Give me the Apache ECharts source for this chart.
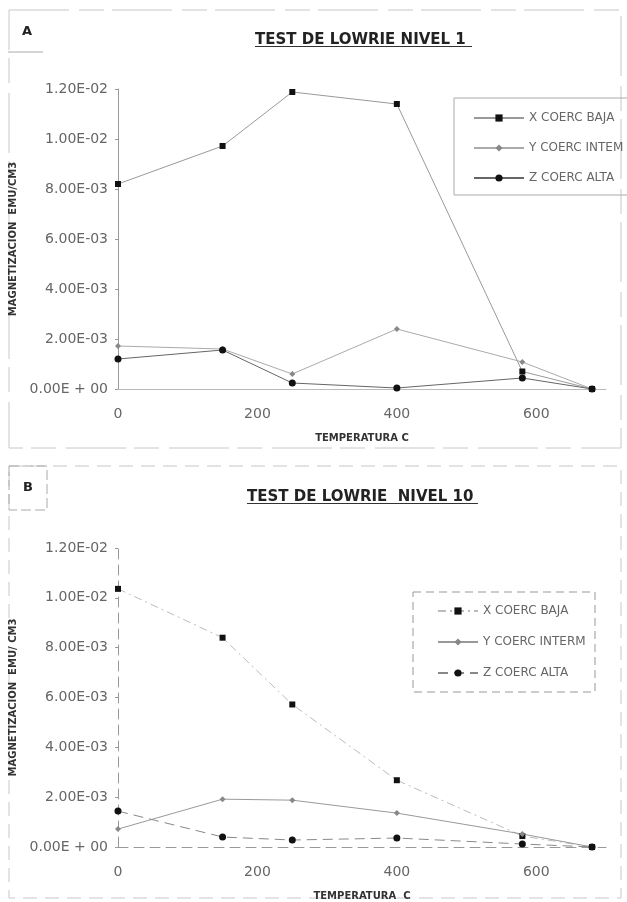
<!DOCTYPE html>
<html>
<head>
<meta charset="utf-8">
<script src="https://cdn.jsdelivr.net/npm/echarts@6/dist/echarts.min.js"></script>
<style>
html,body{margin:0;padding:0;background:#fff;}
#c{width:627px;height:902px;}
</style>
</head>
<body>
<div id="c"></div>
<script>
// ---- data ----
const temps = [0, 150, 250, 400, 580, 680];
const xTickLabels = ['0', '200', '400', '600'];
const yTickLabels = ['0.00E + 00', '2.00E-03', '4.00E-03', '6.00E-03', '8.00E-03', '1.00E-02', '1.20E-02'];

// Panel A: TEST DE LOWRIE NIVEL 1
const xCoercBajaA  = [8.2e-3, 9.72e-3, 11.88e-3, 11.4e-3, 0.7e-3, 0];
const yCoercIntemA = [1.72e-3, 1.6e-3, 0.6e-3, 2.4e-3, 1.08e-3, 0];
const zCoercAltaA  = [1.2e-3, 1.56e-3, 0.24e-3, 0.04e-3, 0.44e-3, 0];

// Panel B: TEST DE LOWRIE NIVEL 10
const xCoercBajaB   = [10.36e-3, 8.4e-3, 5.72e-3, 2.68e-3, 0.44e-3, 0];
const yCoercIntermB = [0.72e-3, 1.92e-3, 1.88e-3, 1.36e-3, 0.52e-3, 0];
const zCoercAltaB   = [1.44e-3, 0.4e-3, 0.28e-3, 0.36e-3, 0.12e-3, 0];

const pair = (arr) => temps.map((t, i) => [t, arr[i]]);
const FONT = 'DejaVu Sans';

const chart = echarts.init(document.getElementById('c'), null, {renderer: 'canvas'});

function xAxisCfg(gridIndex, dashed, name) {
  return {
    type: 'value', gridIndex: gridIndex, min: 0, max: 700, interval: 200,
    name: name, nameLocation: 'middle', nameGap: 44,
    nameTextStyle: {fontFamily: FONT, fontSize: 10, fontWeight: 'bold', color: '#333'},
    axisLine: {show: true, onZero: true, lineStyle: {color: dashed ? '#999' : '#bbb', width: 1, type: dashed ? [10, 6] : 'solid'}},
    axisTick: {show: false},
    splitLine: {show: false},
    axisLabel: {
      fontFamily: FONT, fontSize: 14, color: '#666', margin: 18,
      formatter: function (v) { const i = Math.round(v / 200); return (i >= 0 && i < xTickLabels.length) ? xTickLabels[i] : ''; }
    }
  };
}
function yAxisCfg(gridIndex, dashed, name) {
  return {
    type: 'value', gridIndex: gridIndex, min: 0, max: 0.012, interval: 0.002,
    name: name, nameLocation: 'middle', nameGap: 100,
    nameTextStyle: {fontFamily: FONT, fontSize: 10, fontWeight: 'bold', color: '#333'},
    axisLine: {show: true, lineStyle: {color: '#999', width: 1, type: dashed ? [10, 6] : 'solid'}},
    axisTick: {show: true, length: 3, lineStyle: {color: '#999'}},
    splitLine: {show: false},
    axisLabel: {
      fontFamily: FONT, fontSize: 14, color: '#666', margin: 10,
      formatter: function (v) { return yTickLabels[Math.round(v / 0.002)]; }
    }
  };
}

const option = {
  backgroundColor: '#fff',
  animation: false,
  title: [
    {text: 'TEST DE LOWRIE NIVEL 1', left: 250, top: 28,
     textStyle: {fontFamily: FONT, fontSize: 15, fontWeight: 'bold', color: '#222'}},
    {text: 'TEST DE LOWRIE  NIVEL 10', left: 242, top: 485,
     textStyle: {fontFamily: FONT, fontSize: 15, fontWeight: 'bold', color: '#222'}}
  ],
  grid: [
    {left: 118, top: 89, width: 488, height: 300},
    {left: 118, top: 548, width: 488, height: 300}
  ],
  xAxis: [
    xAxisCfg(0, false, 'TEMPERATURA C'),
    xAxisCfg(1, true, 'TEMPERATURA  C')
  ],
  yAxis: [
    yAxisCfg(0, false, 'MAGNETIZACION  EMU/CM3'),
    yAxisCfg(1, true, 'MAGNETIZACION  EMU/ CM3')
  ],
  legend: [
    {
      orient: 'vertical', left: 468, top: 107, itemWidth: 50, itemHeight: 9, itemGap: 18, itemTextGap: 10,
      data: ['X COERC BAJA', 'Y COERC INTEM', 'Z COERC ALTA'],
      textStyle: {fontFamily: FONT, fontSize: 12, color: '#666'}
    },
    {
      orient: 'vertical', left: 432, top: 600, itemWidth: 40, itemHeight: 9, itemGap: 19, itemTextGap: 13,
      data: ['X COERC BAJA ', 'Y COERC INTERM', 'Z COERC ALTA '],
      formatter: function (n) { return n.trim(); },
      textStyle: {fontFamily: FONT, fontSize: 12, color: '#666'}
    }
  ],
  series: [
    {name: 'X COERC BAJA', type: 'line', xAxisIndex: 0, yAxisIndex: 0, data: pair(xCoercBajaA),
     symbol: 'rect', symbolSize: 6, itemStyle: {color: '#111'}, lineStyle: {color: '#999', width: 1}},
    {name: 'Y COERC INTEM', type: 'line', xAxisIndex: 0, yAxisIndex: 0, data: pair(yCoercIntemA),
     symbol: 'diamond', symbolSize: 6, itemStyle: {color: '#888'}, lineStyle: {color: '#aaa', width: 1}},
    {name: 'Z COERC ALTA', type: 'line', xAxisIndex: 0, yAxisIndex: 0, data: pair(zCoercAltaA),
     symbol: 'circle', symbolSize: 7, itemStyle: {color: '#111'}, lineStyle: {color: '#666', width: 1}},

    {name: 'X COERC BAJA ', type: 'line', xAxisIndex: 1, yAxisIndex: 1, data: pair(xCoercBajaB),
     symbol: 'rect', symbolSize: 6, itemStyle: {color: '#111'}, lineStyle: {color: '#bbb', width: 1, type: [8, 4, 2, 4]}},
    {name: 'Y COERC INTERM', type: 'line', xAxisIndex: 1, yAxisIndex: 1, data: pair(yCoercIntermB),
     symbol: 'diamond', symbolSize: 6, itemStyle: {color: '#888'}, lineStyle: {color: '#999', width: 1}},
    {name: 'Z COERC ALTA ', type: 'line', xAxisIndex: 1, yAxisIndex: 1, data: pair(zCoercAltaB),
     symbol: 'circle', symbolSize: 7, itemStyle: {color: '#111'}, lineStyle: {color: '#888', width: 1, type: [10, 6]}}
  ],
  graphic: [
    // panel A frame
    {type: 'rect', shape: {x: 9, y: 10, width: 612, height: 438}, silent: true,
     style: {fill: null, stroke: '#c8c8c8', lineWidth: 1, lineDash: [60, 10, 25, 8]}},
    {type: 'line', shape: {x1: 8, y1: 52, x2: 43, y2: 52}, silent: true, style: {stroke: '#aaa', lineWidth: 1}},
    {type: 'text', x: 27, y: 32, silent: true,
     style: {text: 'A', font: 'bold 13px "DejaVu Sans"', fill: '#222', align: 'center', verticalAlign: 'middle'}},
    // legend A box
    {type: 'polyline', shape: {points: [[627, 98], [454, 98], [454, 195], [627, 195]]}, silent: true,
     style: {fill: null, stroke: '#aaa', lineWidth: 1}},
    // title A underline
    {type: 'line', shape: {x1: 255, y1: 46.5, x2: 472, y2: 46.5}, silent: true, style: {stroke: '#333', lineWidth: 1}},
    // panel B frame
    {type: 'rect', shape: {x: 9, y: 466, width: 612, height: 432}, silent: true,
     style: {fill: null, stroke: '#c8c8c8', lineWidth: 1, lineDash: [14, 8]}},
    {type: 'rect', shape: {x: 9, y: 466, width: 38, height: 44}, silent: true,
     style: {fill: null, stroke: '#aaa', lineWidth: 1, lineDash: [10, 4]}},
    {type: 'text', x: 28, y: 488, silent: true,
     style: {text: 'B', font: 'bold 13px "DejaVu Sans"', fill: '#222', align: 'center', verticalAlign: 'middle'}},
    // legend B box
    {type: 'rect', shape: {x: 413, y: 592, width: 182, height: 100}, silent: true,
     style: {fill: null, stroke: '#999', lineWidth: 1, lineDash: [8, 5]}},
    // title B underline
    {type: 'line', shape: {x1: 247, y1: 503.5, x2: 478, y2: 503.5}, silent: true, style: {stroke: '#333', lineWidth: 1}}
  ]
};
chart.setOption(option);
</script>
</body>
</html>
